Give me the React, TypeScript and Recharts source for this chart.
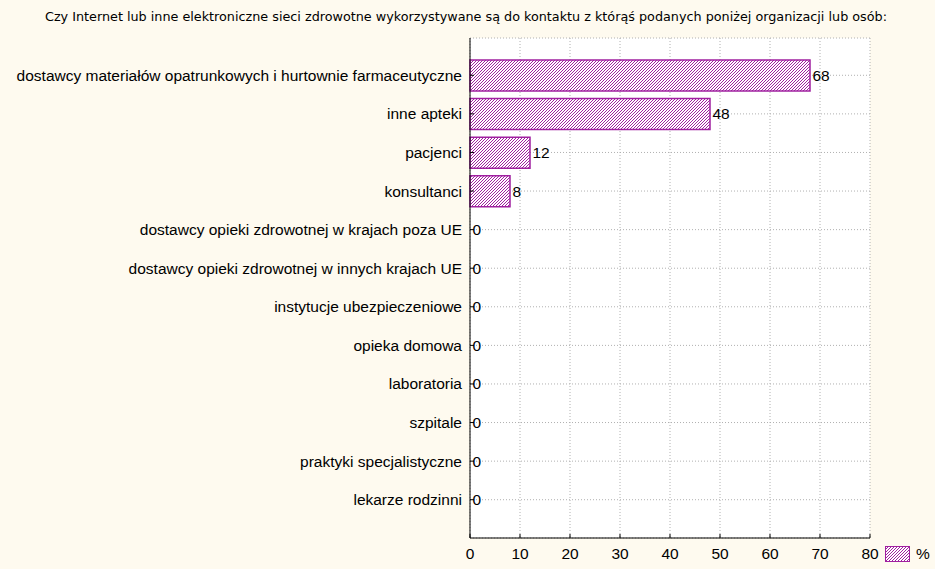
import React from 'react';
import { ComposedChart, Bar, Line, XAxis, YAxis, CartesianGrid, LabelList } from 'recharts';

const categories = [
  'dostawcy materiałów opatrunkowych i hurtownie farmaceutyczne',
  'inne apteki',
  'pacjenci',
  'konsultanci',
  'dostawcy opieki zdrowotnej w krajach poza UE',
  'dostawcy opieki zdrowotnej w innych krajach UE',
  'instytucje ubezpieczeniowe',
  'opieka domowa',
  'laboratoria',
  'szpitale',
  'praktyki specjalistyczne',
  'lekarze rodzinni',
];
const values = [68, 48, 12, 8, 0, 0, 0, 0, 0, 0, 0, 0];
const xTicks = [0, 10, 20, 30, 40, 50, 60, 70, 80];
const title =
  'Czy Internet lub inne elektroniczne sieci zdrowotne wykorzystywane są do kontaktu z którąś podanych poniżej organizacji lub osób:';
const seriesName = '%';

const data = categories.map((name, i) => ({ name, value: values[i] }));

const PURPLE = '#A020A0';
const BG = '#FEFAEF';
const FONT = '"Liberation Sans", Arial, sans-serif';
const FS = 15.5;

const HatchDefs = ({ id }: { id: string }) => (
  <defs>
    <pattern id={id} patternUnits="userSpaceOnUse" width={3} height={3}>
      <rect width={3} height={3} fill="#ffffff" />
      <rect x={2} y={0} width={1} height={1} fill={PURPLE} />
      <rect x={1} y={1} width={1} height={1} fill={PURPLE} />
      <rect x={0} y={2} width={1} height={1} fill={PURPLE} />
    </pattern>
  </defs>
);

const YTick = (props: any) => {
  const { x, y, payload } = props;
  return (
    <g>
      <line x1={x + 8} x2={x + 12} y1={y} y2={y} stroke="#000" />
      <text x={x} y={y} textAnchor="end" dominantBaseline="central" fontFamily={FONT} fontSize={FS} fill="#000">
        {payload.value}
      </text>
    </g>
  );
};

const YTickRight = (props: any) => {
  const { x, y } = props;
  return <line x1={x - 4} x2={x} y1={y} y2={y} stroke="#000" />;
};

const XTick = (props: any) => {
  const { x, y, payload } = props;
  return (
    <g>
      <line x1={x} x2={x} y1={y - 7} y2={y - 11} stroke="#000" />
      <text x={x} y={y + 8} textAnchor="middle" dominantBaseline="central" fontFamily={FONT} fontSize={FS} fill="#000">
        {payload.value}
      </text>
    </g>
  );
};

const XTickTop = (props: any) => {
  const { x, y } = props;
  return <line x1={x} x2={x} y1={y} y2={y + 4} stroke="#000" />;
};

const ValueLabel = (props: any) => {
  const { x, y, value } = props;
  return (
    <text x={x + 2.5} y={y} dominantBaseline="central" fontFamily={FONT} fontSize={FS} fill="#000">
      {value}
    </text>
  );
};

export default function App() {
  return (
    <div style={{ position: 'absolute', left: 0, top: 0, width: 935, height: 569, background: BG }}>
      <svg width={935} height={30} style={{ position: 'absolute', left: 0, top: 0 }}>
        <text
          x={466}
          y={17}
          textAnchor="middle"
          dominantBaseline="central"
          fontFamily='"DejaVu Sans Condensed", "DejaVu Sans", sans-serif'
          fontSize={12}
          fill="#000"
          textLength={842}
          lengthAdjust="spacingAndGlyphs"
        >
          {title}
        </text>
      </svg>
      <div style={{ position: 'absolute', left: 0, top: 0 }}>
        <ComposedChart
          width={935}
          height={569}
          data={data}
          layout="vertical"
          margin={{ top: 38, right: 65, bottom: 0, left: 0 }}
        >
          <HatchDefs id="hatch" />
          <CartesianGrid fill="#ffffff" stroke="#B0B0B0" strokeDasharray="1 2" />
          <XAxis
            type="number"
            domain={[0, 80]}
            ticks={xTicks}
            interval={0}
            height={31}
            tickSize={0}
            tickMargin={7}
            tickLine={false}
            axisLine={{ stroke: '#000' }}
            tick={<XTick />}
          />
          <XAxis
            xAxisId="top"
            orientation="top"
            type="number"
            domain={[0, 80]}
            ticks={xTicks}
            interval={0}
            height={0}
            tickSize={0}
            tickMargin={0}
            tickLine={false}
            axisLine={{ stroke: '#000' }}
            tick={<XTickTop />}
          />
          <YAxis
            type="category"
            dataKey="name"
            width={470}
            interval={0}
            padding={{ top: 18, bottom: 19 }}
            tickSize={0}
            tickMargin={8}
            tickLine={false}
            axisLine={{ stroke: '#000' }}
            tick={<YTick />}
          />
          <YAxis
            yAxisId="right"
            orientation="right"
            type="category"
            dataKey="name"
            width={0}
            interval={0}
            padding={{ top: 18, bottom: 19 }}
            tickSize={0}
            tickMargin={0}
            tickLine={false}
            axisLine={{ stroke: '#000' }}
            tick={<YTickRight />}
          />
          <Bar
            dataKey="value"
            name={seriesName}
            barSize={31}
            fill="url(#hatch)"
            stroke={PURPLE}
            strokeWidth={1.5}
            isAnimationActive={false}
          />
          <Line
            dataKey="value"
            stroke="none"
            dot={false}
            activeDot={false}
            legendType="none"
            isAnimationActive={false}
          >
            <LabelList dataKey="value" content={<ValueLabel />} />
          </Line>
        </ComposedChart>
      </div>
      <div style={{ position: 'absolute', left: 884, top: 545, display: 'flex', alignItems: 'center' }}>
        <svg width={27} height={18}>
          <HatchDefs id="hatchLegend" />
          <rect x={1.5} y={1.5} width={24} height={15} fill="url(#hatchLegend)" stroke={PURPLE} />
        </svg>
        <span style={{ fontFamily: FONT, fontSize: FS, marginLeft: 5, color: '#000' }}>{seriesName}</span>
      </div>
    </div>
  );
}
